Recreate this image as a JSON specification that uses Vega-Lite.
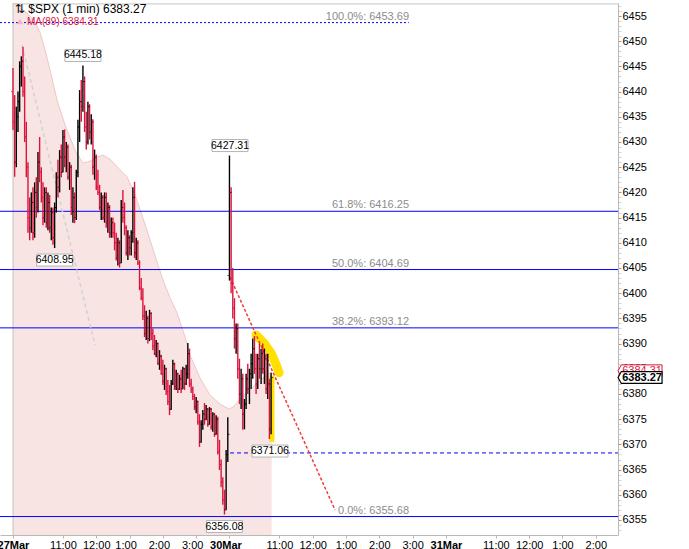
{
"$schema":"https://vega.github.io/schema/vega-lite/v6.json",
"width":618,"height":532,
"autosize":{"type":"none"},
"padding":{"left":0,"top":3,"right":71,"bottom":14},
"background":"white",
"config":{"view":{"stroke":null},
 "axis":{"grid":false,"labelOverlap":false,"labelFlush":false,"labelBound":false,"title":null,"domainColor":"#b8b8b8","tickSize":3,"labelPadding":1,"labelFont":"Liberation Sans","labelFontSize":11,"labelColor":"#000000"},
 "axisX":{"tickColor":"#b8b8b8"}},
"resolve":{"axis":{"x":"independent","y":"independent"}},
"datasets":{
"one":[{}],
"ma":[{"t":0,"p":6458.5},{"t":12.6,"p":6456.6},{"t":27,"p":6455.4},{"t":39.6,"p":6453.8},{"t":48.6,"p":6451.8},{"t":57.7,"p":6448.3},{"t":66.7,"p":6444.3},{"t":79.3,"p":6438.3},{"t":93.7,"p":6433.4},{"t":111.7,"p":6428.4},{"t":126.1,"p":6425.8},{"t":138.7,"p":6426.2},{"t":151.4,"p":6427.0},{"t":162.2,"p":6427.4},{"t":174.8,"p":6426.6},{"t":189.2,"p":6424.9},{"t":205.4,"p":6423.1},{"t":219.8,"p":6419.5},{"t":232.4,"p":6415.5},{"t":246.8,"p":6410.6},{"t":259.5,"p":6406.2},{"t":270.3,"p":6402.6},{"t":282.9,"p":6399.1},{"t":295.5,"p":6396.1},{"t":309.9,"p":6391.3},{"t":318.9,"p":6387.7},{"t":336.9,"p":6383.2},{"t":354.9,"p":6379.8},{"t":372.9,"p":6378.0},{"t":389.2,"p":6377.0},{"t":396.4,"p":6377.4},{"t":414.4,"p":6379.6},{"t":426.7,"p":6380.8},{"t":439.6,"p":6382.2},{"t":457.7,"p":6383.8},{"t":466,"p":6384.31}],
"bars":[
{"t":0,"o":6440,"h":6444.7,"l":6432.4,"c":6434},{"t":3,"o":6434,"h":6439.3,"l":6423.1,"c":6426},{"t":6,"o":6426,"h":6437,"l":6425,"c":6435},{"t":9,"o":6435,"h":6440,"l":6432,"c":6438},{"t":12,"o":6438,"h":6446,"l":6436,"c":6445},{"t":15,"o":6445,"h":6447,"l":6441,"c":6446},{"t":18,"o":6446,"h":6448.9,"l":6439,"c":6440},{"t":21,"o":6440,"h":6443,"l":6430,"c":6431},{"t":24,"o":6431,"h":6434,"l":6423,"c":6425},{"t":27,"o":6425,"h":6426,"l":6412,"c":6415},
{"t":30,"o":6415,"h":6419,"l":6410.5,"c":6413},{"t":33,"o":6413,"h":6420,"l":6412,"c":6418},{"t":36,"o":6418,"h":6421,"l":6410.5,"c":6412},{"t":39,"o":6412,"h":6422,"l":6411,"c":6420},{"t":42,"o":6420,"h":6423,"l":6415,"c":6417},{"t":45,"o":6417,"h":6428,"l":6416,"c":6426},{"t":48,"o":6426,"h":6431,"l":6422,"c":6424},{"t":51,"o":6424,"h":6425,"l":6418,"c":6419},{"t":54,"o":6419,"h":6422,"l":6413.5,"c":6415},{"t":57,"o":6415,"h":6421,"l":6414,"c":6420},
{"t":60,"o":6420,"h":6421,"l":6413,"c":6414},{"t":63,"o":6414,"h":6420,"l":6412.5,"c":6418},{"t":66,"o":6418,"h":6419.5,"l":6412,"c":6413},{"t":69,"o":6413,"h":6417,"l":6410.5,"c":6416},{"t":72,"o":6416,"h":6417,"l":6409.6,"c":6411},{"t":75,"o":6411,"h":6418,"l":6408.95,"c":6417},{"t":78,"o":6417,"h":6424,"l":6416,"c":6423},{"t":81,"o":6423,"h":6426.5,"l":6419,"c":6421},{"t":84,"o":6421,"h":6428.4,"l":6420,"c":6427},{"t":87,"o":6427,"h":6429.5,"l":6423,"c":6424},
{"t":90,"o":6424,"h":6432.4,"l":6424,"c":6431},{"t":93,"o":6431,"h":6432.5,"l":6425,"c":6427},{"t":96,"o":6427,"h":6430,"l":6424,"c":6429},{"t":99,"o":6429,"h":6429.5,"l":6422.5,"c":6423},{"t":102,"o":6423,"h":6426,"l":6420.5,"c":6425},{"t":105,"o":6425,"h":6425.5,"l":6415.5,"c":6417},{"t":108,"o":6417,"h":6421,"l":6414,"c":6419},{"t":111,"o":6419,"h":6420,"l":6413.9,"c":6415},{"t":114,"o":6415,"h":6424.5,"l":6414.5,"c":6424},{"t":117,"o":6424,"h":6434.4,"l":6423,"c":6433},
{"t":120,"o":6433,"h":6440.3,"l":6430,"c":6438},{"t":123,"o":6438,"h":6442.3,"l":6434,"c":6437},{"t":126,"o":6437,"h":6445.18,"l":6436,"c":6442},{"t":129,"o":6442,"h":6443,"l":6432,"c":6433},{"t":132,"o":6433,"h":6436,"l":6428.5,"c":6430},{"t":135,"o":6430,"h":6438,"l":6429.5,"c":6437},{"t":138,"o":6437,"h":6437.5,"l":6430.5,"c":6432},{"t":141,"o":6432,"h":6435.5,"l":6429.5,"c":6434},{"t":144,"o":6434,"h":6434.5,"l":6423.5,"c":6425},{"t":147,"o":6425,"h":6428.5,"l":6422.5,"c":6427},
{"t":150,"o":6427,"h":6427.5,"l":6420.5,"c":6421},{"t":153,"o":6421,"h":6424.5,"l":6419.5,"c":6420},{"t":156,"o":6420,"h":6421.5,"l":6416.5,"c":6417},{"t":159,"o":6417,"h":6420,"l":6414.5,"c":6419},{"t":162,"o":6419,"h":6419.5,"l":6414.5,"c":6415},{"t":165,"o":6415,"h":6420,"l":6414,"c":6419},{"t":168,"o":6419,"h":6420,"l":6413,"c":6414},{"t":171,"o":6414,"h":6418,"l":6412,"c":6417},{"t":174,"o":6417,"h":6417.5,"l":6411,"c":6412},{"t":177,"o":6412,"h":6415,"l":6411,"c":6414},
{"t":180,"o":6414,"h":6415,"l":6411,"c":6412},{"t":183,"o":6412,"h":6414,"l":6408.5,"c":6410},{"t":186,"o":6410,"h":6412,"l":6406.5,"c":6407},{"t":189,"o":6407,"h":6411,"l":6405.5,"c":6410},{"t":192,"o":6410,"h":6410.5,"l":6405.1,"c":6406},{"t":195,"o":6406,"h":6418.5,"l":6406,"c":6417},{"t":198,"o":6417,"h":6420.5,"l":6414,"c":6415},{"t":201,"o":6415,"h":6418,"l":6411.5,"c":6413},{"t":204,"o":6413,"h":6413.5,"l":6407.5,"c":6408},{"t":207,"o":6408,"h":6412.5,"l":6406.6,"c":6411},
{"t":210,"o":6411,"h":6411.5,"l":6407.5,"c":6409},{"t":213,"o":6409,"h":6412.5,"l":6407.5,"c":6412},{"t":216,"o":6412,"h":6421,"l":6410,"c":6419},{"t":219,"o":6419,"h":6422.1,"l":6407,"c":6408},{"t":222,"o":6408,"h":6411,"l":6406.6,"c":6410},{"t":225,"o":6410,"h":6410.5,"l":6405.6,"c":6406},{"t":228,"o":6406,"h":6406.5,"l":6400.6,"c":6401},{"t":231,"o":6401,"h":6403,"l":6398.6,"c":6399},{"t":234,"o":6399,"h":6401,"l":6394.7,"c":6395.5},{"t":237,"o":6395.5,"h":6397.6,"l":6391.3,"c":6392},
{"t":240,"o":6392,"h":6396.5,"l":6390.7,"c":6395},{"t":243,"o":6395,"h":6395.5,"l":6390,"c":6391},{"t":246,"o":6391,"h":6396.7,"l":6390.5,"c":6396},{"t":249,"o":6396,"h":6396.2,"l":6390.7,"c":6392},{"t":252,"o":6392,"h":6393,"l":6388.7,"c":6389.5},{"t":255,"o":6389.5,"h":6391.7,"l":6387.7,"c":6388},{"t":258,"o":6388,"h":6390.7,"l":6387.3,"c":6390},{"t":261,"o":6390,"h":6390.2,"l":6385.8,"c":6386},{"t":264,"o":6386,"h":6388.7,"l":6384.8,"c":6387.5},{"t":267,"o":6387.5,"h":6387.8,"l":6383.8,"c":6384},
{"t":270,"o":6384,"h":6386.8,"l":6381.8,"c":6382.5},{"t":273,"o":6382.5,"h":6385.8,"l":6380.8,"c":6385},{"t":276,"o":6385,"h":6385.2,"l":6379.8,"c":6380.5},{"t":279,"o":6380.5,"h":6382.8,"l":6377.8,"c":6378.5},{"t":282,"o":6378.5,"h":6381.8,"l":6375.8,"c":6377},{"t":285,"o":6377,"h":6382.8,"l":6376.8,"c":6382},{"t":288,"o":6382,"h":6386.8,"l":6381.8,"c":6386},{"t":291,"o":6386,"h":6386.2,"l":6380.8,"c":6381.5},{"t":294,"o":6381.5,"h":6384.8,"l":6380.8,"c":6384},{"t":297,"o":6384,"h":6384.2,"l":6380.2,"c":6381},
{"t":300,"o":6381,"h":6383.8,"l":6380.8,"c":6383},{"t":303,"o":6383,"h":6384.8,"l":6380.2,"c":6381},{"t":306,"o":6381,"h":6385.4,"l":6381,"c":6385},{"t":309,"o":6385,"h":6385.2,"l":6380.8,"c":6382},{"t":312,"o":6382,"h":6385.8,"l":6381.8,"c":6384},{"t":315,"o":6384,"h":6390.1,"l":6383,"c":6388},{"t":318,"o":6388,"h":6389,"l":6381.4,"c":6382},{"t":321,"o":6382,"h":6383,"l":6380.2,"c":6381},{"t":324,"o":6381,"h":6381.5,"l":6378.8,"c":6379.5},{"t":327,"o":6379.5,"h":6380,"l":6376.8,"c":6377.5},
{"t":330,"o":6377.5,"h":6379.4,"l":6376.2,"c":6378.5},{"t":333,"o":6378.5,"h":6378.7,"l":6373.9,"c":6374.5},{"t":336,"o":6374.5,"h":6376,"l":6369.5,"c":6370.5},{"t":339,"o":6370.5,"h":6374.8,"l":6370.3,"c":6374},{"t":342,"o":6374,"h":6376.8,"l":6372.9,"c":6376},{"t":345,"o":6376,"h":6378.2,"l":6373.9,"c":6375},{"t":348,"o":6375,"h":6377.8,"l":6374.8,"c":6377},{"t":351,"o":6377,"h":6377.2,"l":6373.5,"c":6374},{"t":354,"o":6374,"h":6377.4,"l":6373.9,"c":6377},{"t":357,"o":6377,"h":6377.2,"l":6372.9,"c":6373.5},
{"t":360,"o":6373.5,"h":6376.4,"l":6372.5,"c":6376},{"t":363,"o":6376,"h":6376.2,"l":6371.5,"c":6372},{"t":366,"o":6372,"h":6375.8,"l":6371.9,"c":6375},{"t":369,"o":6375,"h":6375.5,"l":6368,"c":6368.5},{"t":372,"o":6368.5,"h":6370.9,"l":6364.9,"c":6366},{"t":375,"o":6366,"h":6367,"l":6361.5,"c":6362.5},{"t":378,"o":6362.5,"h":6363.5,"l":6358,"c":6359},{"t":381,"o":6359,"h":6361,"l":6356.08,"c":6357},{"t":384,"o":6357,"h":6368.9,"l":6357,"c":6368},{"t":387,"o":6368,"h":6375.4,"l":6366.5,"c":6372},
{"t":390,"o":6403.5,"h":6427.31,"l":6402.5,"c":6420},{"t":393,"o":6420,"h":6421,"l":6400,"c":6402},{"t":396,"o":6402,"h":6405,"l":6395,"c":6397},{"t":399,"o":6397,"h":6399,"l":6389,"c":6391},{"t":402,"o":6391,"h":6394,"l":6388,"c":6393},{"t":405,"o":6393,"h":6394,"l":6383,"c":6385},{"t":408,"o":6385,"h":6387,"l":6378,"c":6380},{"t":411,"o":6380,"h":6385,"l":6377,"c":6383},{"t":414,"o":6383,"h":6384,"l":6372.9,"c":6376},{"t":417,"o":6376,"h":6379,"l":6373,"c":6378},
{"t":420,"o":6378,"h":6384,"l":6377,"c":6383},{"t":423,"o":6383,"h":6386,"l":6380,"c":6381},{"t":426,"o":6381,"h":6385,"l":6378,"c":6384},{"t":429,"o":6384,"h":6388,"l":6381,"c":6386},{"t":432,"o":6386,"h":6391,"l":6383,"c":6389},{"t":435,"o":6389,"h":6391.5,"l":6384,"c":6385},{"t":438,"o":6385,"h":6388,"l":6380,"c":6382},{"t":441,"o":6382,"h":6388,"l":6381,"c":6387},{"t":444,"o":6387,"h":6390,"l":6383,"c":6385},{"t":447,"o":6385,"h":6389,"l":6382,"c":6388},
{"t":450,"o":6388,"h":6390,"l":6384,"c":6385},{"t":453,"o":6385,"h":6389,"l":6382,"c":6387},{"t":456,"o":6387,"h":6388,"l":6380,"c":6381},{"t":459,"o":6381,"h":6388,"l":6379,"c":6382},{"t":462,"o":6382,"h":6383,"l":6371.06,"c":6373},{"t":465,"o":6373,"h":6384.2,"l":6372,"c":6383.27}],
"fib":[{"p":6416.25},{"p":6404.69},{"p":6393.12},{"p":6355.68}],
"fiblabels":[{"p":6453.69,"label":"100.0%: 6453.69"},{"p":6416.25,"label":"61.8%: 6416.25"},{"p":6404.69,"label":"50.0%: 6404.69"},{"p":6393.12,"label":"38.2%: 6393.12"},{"p":6355.68,"label":"0.0%: 6355.68"}],
"gtrend":[{"t":16.2,"p":6449.25},{"t":147.7,"p":6389.7}],
"rtrend":[{"t":391,"p":6403.2},{"t":580.2,"p":6357.0}],
"hilite":[{"t":437.8,"p":6391.7},{"t":452.3,"p":6390.1},{"t":464.9,"p":6388.1},{"t":473.9,"p":6385.9},{"t":479.3,"p":6384.2}],
"peaks":[{"t":126,"p":6445.18},{"t":391,"p":6427.31}],
"troughs":[{"t":75,"p":6408.95},{"t":381,"p":6356.08},{"t":463,"p":6371.06}]
},
"layer":[
{"data":{"name":"ma"},"mark":{"type":"area","clip":true,"color":"#f9e4e4"},
 "encoding":{
  "x":{"field":"t","type":"quantitative","scale":{"domain":[-23.4,1090],"nice":false,"zero":false},
   "axis":{"orient":"bottom","title":null,"labelOverlap":false,"values":[0,90,150,210,270,330,390,480,540,600,660,720,780,870,930,990,1050],
    "labelExpr":"datum.value % 390 == 0 ? ['27Mar','30Mar','31Mar'][datum.value/390] : ((floor(9.5 + (datum.value % 390)/60) - 1) % 12 + 1) + ':00'",
    "labelOffset":{"condition":{"test":"datum.value >= 210 && datum.value <= 390","value":-4},"value":0},
    "labelFontWeight":{"condition":{"test":"datum.value % 390 == 0","value":"bold"},"value":"normal"}}},
  "y":{"field":"p","type":"quantitative","scale":{"domain":[6352.02,6457.58],"nice":false,"zero":false},
   "axis":{"orient":"right","title":null,"format":"d","labelOverlap":false,
    "values":[6353,6354,6355,6356,6357,6358,6359,6360,6361,6362,6363,6364,6365,6366,6367,6368,6369,6370,6371,6372,6373,6374,6375,6376,6377,6378,6379,6380,6381,6382,6383,6384,6385,6386,6387,6388,6389,6390,6391,6392,6393,6394,6395,6396,6397,6398,6399,6400,6401,6402,6403,6404,6405,6406,6407,6408,6409,6410,6411,6412,6413,6414,6415,6416,6417,6418,6419,6420,6421,6422,6423,6424,6425,6426,6427,6428,6429,6430,6431,6432,6433,6434,6435,6436,6437,6438,6439,6440,6441,6442,6443,6444,6445,6446,6447,6448,6449,6450,6451,6452,6453,6454,6455,6456,6457],
    "labelExpr":"datum.value % 5 == 0 ? datum.label : ''",
    "tickColor":{"condition":{"test":"datum.value % 5 == 0","value":"#9a9a9a"},"value":"#d4d4d4"}}},
  "y2":{"datum":6352.02}}},
{"data":{"name":"ma"},"mark":{"type":"line","clip":true,"color":"#ecc8c8","strokeWidth":1},
 "encoding":{"x":{"field":"t","type":"quantitative","axis":null},"y":{"field":"p","type":"quantitative","axis":null}}},
{"data":{"name":"one"},"mark":{"type":"rule","stroke":"#c4c4c4","strokeWidth":1},
 "encoding":{"x":{"datum":0,"type":"quantitative","axis":null}}},
{"data":{"name":"one"},"mark":{"type":"rule","stroke":"#c4c4c4","strokeWidth":1},
 "encoding":{"x":{"datum":0,"type":"quantitative","axis":null},"x2":{"datum":1090},"y":{"datum":6457.4,"type":"quantitative","axis":null}}},
{"data":{"name":"fib"},"mark":{"type":"rule","stroke":"#0000ff","strokeWidth":1},
 "encoding":{"y":{"field":"p","type":"quantitative","axis":null}}},
{"data":{"name":"one"},"mark":{"type":"rule","stroke":"#0000ff","strokeWidth":1,"strokeDash":[2,2]},
 "encoding":{"x":{"datum":-23.4,"type":"quantitative","axis":null},"x2":{"datum":713},"y":{"datum":6453.69,"type":"quantitative","axis":null}}},
{"data":{"name":"one"},"mark":{"type":"rule","stroke":"#0000ff","strokeWidth":1,"strokeDash":[4,3]},
 "encoding":{"x":{"datum":391,"type":"quantitative","axis":null},"x2":{"datum":1090},"y":{"datum":6368.3,"type":"quantitative","axis":null}}},
{"data":{"name":"fiblabels"},"mark":{"type":"text","align":"right","baseline":"middle","yOffset":-6,"color":"#8c8c8c","font":"Liberation Sans","fontSize":11},
 "encoding":{"x":{"datum":713.5,"type":"quantitative","axis":null},"y":{"field":"p","type":"quantitative","axis":null},"text":{"field":"label"}}},
{"data":{"name":"gtrend"},"mark":{"type":"line","stroke":"#d2d2d2","strokeWidth":1.5,"strokeDash":[4,3]},
 "encoding":{"x":{"field":"t","type":"quantitative","axis":null},"y":{"field":"p","type":"quantitative","axis":null}}},
{"data":{"name":"hilite"},"mark":{"type":"line","stroke":"#ffe000","strokeWidth":9,"strokeCap":"round","strokeJoin":"round"},
 "encoding":{"x":{"field":"t","type":"quantitative","axis":null},"y":{"field":"p","type":"quantitative","axis":null}}},
{"data":{"name":"one"},"mark":{"type":"rule","stroke":"#ffe000","strokeWidth":5},
 "encoding":{"x":{"datum":466.5,"type":"quantitative","axis":null},"y":{"datum":6383.6,"type":"quantitative","axis":null},"y2":{"datum":6370.5}}},
{"data":{"name":"rtrend"},"mark":{"type":"line","stroke":"#f03c3c","strokeWidth":1.5,"strokeDash":[3,2]},
 "encoding":{"x":{"field":"t","type":"quantitative","axis":null},"y":{"field":"p","type":"quantitative","axis":null}}},
{"data":{"name":"bars"},"mark":{"type":"rule","strokeWidth":1.4},
 "encoding":{"x":{"field":"t","type":"quantitative","axis":null},"y":{"field":"h","type":"quantitative","axis":null},"y2":{"field":"l"},
  "color":{"condition":{"test":"datum.c >= datum.o","value":"#000000"},"value":"#dc143c"}}},
{"data":{"name":"bars"},"mark":{"type":"tick","orient":"horizontal","size":2,"thickness":1,"xOffset":-1},
 "encoding":{"x":{"field":"t","type":"quantitative","axis":null},"y":{"field":"o","type":"quantitative","axis":null},
  "color":{"condition":{"test":"datum.c >= datum.o","value":"#000000"},"value":"#dc143c"}}},
{"data":{"name":"bars"},"mark":{"type":"tick","orient":"horizontal","size":2,"thickness":1,"xOffset":1},
 "encoding":{"x":{"field":"t","type":"quantitative","axis":null},"y":{"field":"c","type":"quantitative","axis":null},
  "color":{"condition":{"test":"datum.c >= datum.o","value":"#000000"},"value":"#dc143c"}}},
{"data":{"name":"peaks"},"mark":{"type":"point","shape":"M-1.5,-0.5H1.5V0.5H-1.5Z","size":576,"filled":true,"fill":"#ffffff","stroke":"#b4b4b4","strokeWidth":1,"opacity":1,"yOffset":-10},
 "encoding":{"x":{"field":"t","type":"quantitative","axis":null},"y":{"field":"p","type":"quantitative","axis":null}}},
{"data":{"name":"peaks"},"mark":{"type":"text","baseline":"middle","align":"center","yOffset":-10,"font":"Liberation Sans","fontSize":10.5,"color":"#000000"},
 "encoding":{"x":{"field":"t","type":"quantitative","axis":null},"y":{"field":"p","type":"quantitative","axis":null},"text":{"field":"p","format":".2f"}}},
{"data":{"name":"troughs"},"mark":{"type":"point","shape":"M-1.5,-0.5H1.5V0.5H-1.5Z","size":576,"filled":true,"fill":"#ffffff","stroke":"#b4b4b4","strokeWidth":1,"opacity":1,"yOffset":12},
 "encoding":{"x":{"field":"t","type":"quantitative","axis":null},"y":{"field":"p","type":"quantitative","axis":null}}},
{"data":{"name":"troughs"},"mark":{"type":"text","baseline":"middle","align":"center","yOffset":12,"font":"Liberation Sans","fontSize":10.5,"color":"#000000"},
 "encoding":{"x":{"field":"t","type":"quantitative","axis":null},"y":{"field":"p","type":"quantitative","axis":null},"text":{"field":"p","format":".2f"}}},
{"data":{"name":"one"},"mark":{"type":"text","align":"left","baseline":"middle","font":"Liberation Sans","fontSize":12,"color":"#000000"},
 "encoding":{"x":{"datum":3.6,"type":"quantitative","axis":null},"y":{"datum":6456.3,"type":"quantitative","axis":null},"text":{"value":"⇅ $SPX (1 min) 6383.27"}}},
{"data":{"name":"one"},"mark":{"type":"point","shape":"triangle-up","size":40,"filled":true,"color":"#f2b4be","opacity":1},
 "encoding":{"x":{"datum":12.6,"type":"quantitative","axis":null},"y":{"datum":6453.9,"type":"quantitative","axis":null}}},
{"data":{"name":"one"},"mark":{"type":"text","align":"left","baseline":"middle","font":"Liberation Sans","fontSize":10,"color":"#dc143c"},
 "encoding":{"x":{"datum":25.2,"type":"quantitative","axis":null},"y":{"datum":6453.8,"type":"quantitative","axis":null},"text":{"value":"MA(89) 6384.31"}}},
{"data":{"name":"one"},"mark":{"type":"point","shape":"M-1,0L-0.85,-0.27H1V0.27H-0.85Z","size":1936,"filled":true,"fill":"#ffffff","stroke":"#dc143c","strokeWidth":1,"opacity":1},
 "encoding":{"x":{"datum":1129.7,"type":"quantitative","axis":null},"y":{"datum":6384.6,"type":"quantitative","axis":null}}},
{"data":{"name":"one"},"mark":{"type":"text","align":"center","baseline":"middle","font":"Liberation Sans","fontSize":11,"color":"#dc143c","dx":2},
 "encoding":{"x":{"datum":1129.7,"type":"quantitative","axis":null},"y":{"datum":6384.6,"type":"quantitative","axis":null},"text":{"value":"6384.31"}}},
{"data":{"name":"one"},"mark":{"type":"point","shape":"M-1,0L-0.85,-0.27H1V0.27H-0.85Z","size":1936,"filled":true,"fill":"#ffffff","stroke":"#000000","strokeWidth":1.2,"opacity":1},
 "encoding":{"x":{"datum":1129.7,"type":"quantitative","axis":null},"y":{"datum":6383.27,"type":"quantitative","axis":null}}},
{"data":{"name":"one"},"mark":{"type":"text","align":"center","baseline":"middle","font":"Liberation Sans","fontSize":11,"fontWeight":"bold","color":"#000000","dx":2},
 "encoding":{"x":{"datum":1129.7,"type":"quantitative","axis":null},"y":{"datum":6383.27,"type":"quantitative","axis":null},"text":{"value":"6383.27"}}}
]
}
